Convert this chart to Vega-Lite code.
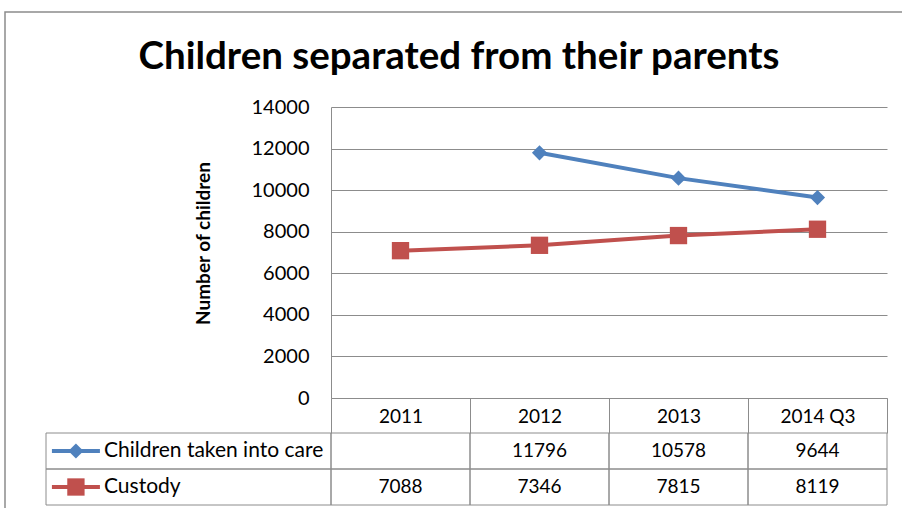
{
  "$schema": "https://vega.github.io/schema/vega-lite/v6.json",
  "autosize": "none",
  "width": 556,
  "height": 291,
  "padding": {"left": 331, "top": 107, "right": 15, "bottom": 110},
  "background": "white",
  "config": {"view": {"stroke": null}, "font": "Lato"},
  "title": {"text": "Children separated from their parents", "font": "Lato", "fontSize": 38.5, "fontWeight": "bold", "color": "#000000", "anchor": "middle", "dx": -150, "offset": -66},
  "datasets": {
    "counts": [
      {"year": "2011", "series": "Children taken into care", "value": null},
      {"year": "2012", "series": "Children taken into care", "value": 11796},
      {"year": "2013", "series": "Children taken into care", "value": 10578},
      {"year": "2014 Q3", "series": "Children taken into care", "value": 9644},
      {"year": "2011", "series": "Custody", "value": 7088},
      {"year": "2012", "series": "Custody", "value": 7346},
      {"year": "2013", "series": "Custody", "value": 7815},
      {"year": "2014 Q3", "series": "Custody", "value": 8119}
    ]
  },
  "data": {"name": "counts"},
  "resolve": {"scale": {"x": "independent", "y": "independent"}},
  "layer": [
    {
      "transform": [{"filter": "datum.year == '2011' && datum.series == 'Custody'"}],
      "mark": {"type": "rect", "fill": null, "stroke": "#8c8c8c", "strokeWidth": 1.5},
      "encoding": {
        "x": {"datum": "frame", "type": "nominal", "scale": {"type": "band", "domain": ["frame"], "range": [-326, 580], "paddingInner": 0, "paddingOuter": 0}, "axis": null},
        "y": {"datum": "frame", "type": "nominal", "scale": {"type": "band", "domain": ["frame"], "range": [-95, 420], "paddingInner": 0, "paddingOuter": 0}, "axis": null}
      }
    },
    {
      "layer": [
        {
          "mark": {"type": "line", "strokeWidth": 4},
          "encoding": {
            "x": {"field": "year", "type": "nominal", "bandPosition": 0.5,
              "scale": {"type": "band", "domain": ["2011", "2012", "2013", "2014 Q3"], "paddingInner": 0, "paddingOuter": 0},
              "axis": {"title": null, "labelAngle": 0, "labelFont": "Lato", "labelFontSize": 19, "labelColor": "#000000", "domainColor": "#8c8c8c", "domainWidth": 1, "tickColor": "#8c8c8c", "tickWidth": 1, "tickSize": 35, "tickBand": "extent", "labelPadding": -17, "labelBaseline": "middle"}},
            "y": {"field": "value", "type": "quantitative",
              "scale": {"domain": [0, 14000], "nice": false},
              "axis": {"title": "Number of children", "titleFont": "Lato", "titleFontSize": 19, "titleFontWeight": "bold", "titleColor": "#000000", "titlePadding": 38, "titleY": 136, "labelFont": "Lato", "labelFontSize": 20, "labelColor": "#000000", "ticks": false, "labelPadding": 22, "grid": true, "gridColor": "#8c8c8c", "gridWidth": 1, "domainColor": "#8c8c8c", "values": [0, 2000, 4000, 6000, 8000, 10000, 12000, 14000], "format": "d"}},
            "color": {"field": "series", "type": "nominal",
              "scale": {"domain": ["Children taken into care", "Custody"], "range": ["#4F81BD", "#C0504D"]}, "legend": null}
          }
        },
        {
          "mark": {"type": "point", "filled": true, "opacity": 1},
          "encoding": {
            "x": {"field": "year", "type": "nominal", "bandPosition": 0.5},
            "y": {"field": "value", "type": "quantitative"},
            "color": {"field": "series", "type": "nominal", "legend": null},
            "shape": {"field": "series", "type": "nominal", "scale": {"domain": ["Children taken into care", "Custody"], "range": ["diamond", "square"]}, "legend": null},
            "size": {"field": "series", "type": "ordinal", "scale": {"domain": ["Children taken into care", "Custody"], "range": [230, 300]}, "legend": null}
          }
        }
      ]
    },
    {
      "resolve": {"scale": {"x": "independent"}},
      "layer": [
        {
          "mark": {"type": "rect", "fill": null, "stroke": "#8c8c8c", "strokeWidth": 1},
          "encoding": {
            "x": {"field": "year", "type": "nominal", "scale": {"type": "band", "domain": ["2011", "2012", "2013", "2014 Q3"], "paddingInner": 0, "paddingOuter": 0}, "axis": null},
            "y": {"field": "series", "type": "nominal", "scale": {"type": "band", "domain": ["Children taken into care", "Custody"], "range": [326, 398], "paddingInner": 0, "paddingOuter": 0}, "axis": null}
          }
        },
        {
          "transform": [{"filter": "datum.value != null"}],
          "mark": {"type": "text", "font": "Lato", "fontSize": 19, "color": "#000000", "baseline": "middle", "align": "center"},
          "encoding": {
            "x": {"field": "year", "type": "nominal", "bandPosition": 0.5, "scale": {"type": "band", "domain": ["2011", "2012", "2013", "2014 Q3"], "paddingInner": 0, "paddingOuter": 0}, "axis": null},
            "y": {"field": "series", "type": "nominal", "bandPosition": 0.5},
            "text": {"field": "value", "type": "quantitative", "format": "d"}
          }
        },
        {
          "transform": [{"filter": "datum.year == '2011'"}],
          "mark": {"type": "rect", "fill": null, "stroke": "#8c8c8c", "strokeWidth": 1},
          "encoding": {
            "x": {"datum": "label", "type": "nominal", "scale": {"type": "band", "domain": ["label"], "range": [-285, 0], "paddingInner": 0, "paddingOuter": 0}, "axis": null},
            "y": {"field": "series", "type": "nominal"}
          }
        },
        {
          "transform": [{"filter": "datum.year == '2011'"}],
          "mark": {"type": "point", "filled": false, "opacity": 1, "shape": "M-1,0H1", "size": 2304, "strokeWidth": 4},
          "encoding": {
            "x": {"datum": "label", "type": "nominal", "bandPosition": 0.105, "scale": {"type": "band", "domain": ["label"], "range": [-285, 0], "paddingInner": 0, "paddingOuter": 0}, "axis": null},
            "y": {"field": "series", "type": "nominal", "bandPosition": 0.5},
            "color": {"field": "series", "type": "nominal", "legend": null}
          }
        },
        {
          "transform": [{"filter": "datum.year == '2011'"}],
          "mark": {"type": "point", "filled": true, "opacity": 1},
          "encoding": {
            "x": {"datum": "label", "type": "nominal", "bandPosition": 0.105, "scale": {"type": "band", "domain": ["label"], "range": [-285, 0], "paddingInner": 0, "paddingOuter": 0}, "axis": null},
            "y": {"field": "series", "type": "nominal", "bandPosition": 0.5},
            "color": {"field": "series", "type": "nominal", "legend": null},
            "shape": {"field": "series", "type": "nominal", "legend": null},
            "size": {"field": "series", "type": "ordinal", "legend": null}
          }
        },
        {
          "transform": [{"filter": "datum.year == '2011'"}],
          "mark": {"type": "text", "font": "Lato", "fontSize": 21, "color": "#000000", "baseline": "middle", "align": "left"},
          "encoding": {
            "x": {"datum": "label", "type": "nominal", "bandPosition": 0.2035, "scale": {"type": "band", "domain": ["label"], "range": [-285, 0], "paddingInner": 0, "paddingOuter": 0}, "axis": null},
            "y": {"field": "series", "type": "nominal", "bandPosition": 0.5},
            "text": {"field": "series", "type": "nominal"}
          }
        }
      ]
    }
  ]
}
